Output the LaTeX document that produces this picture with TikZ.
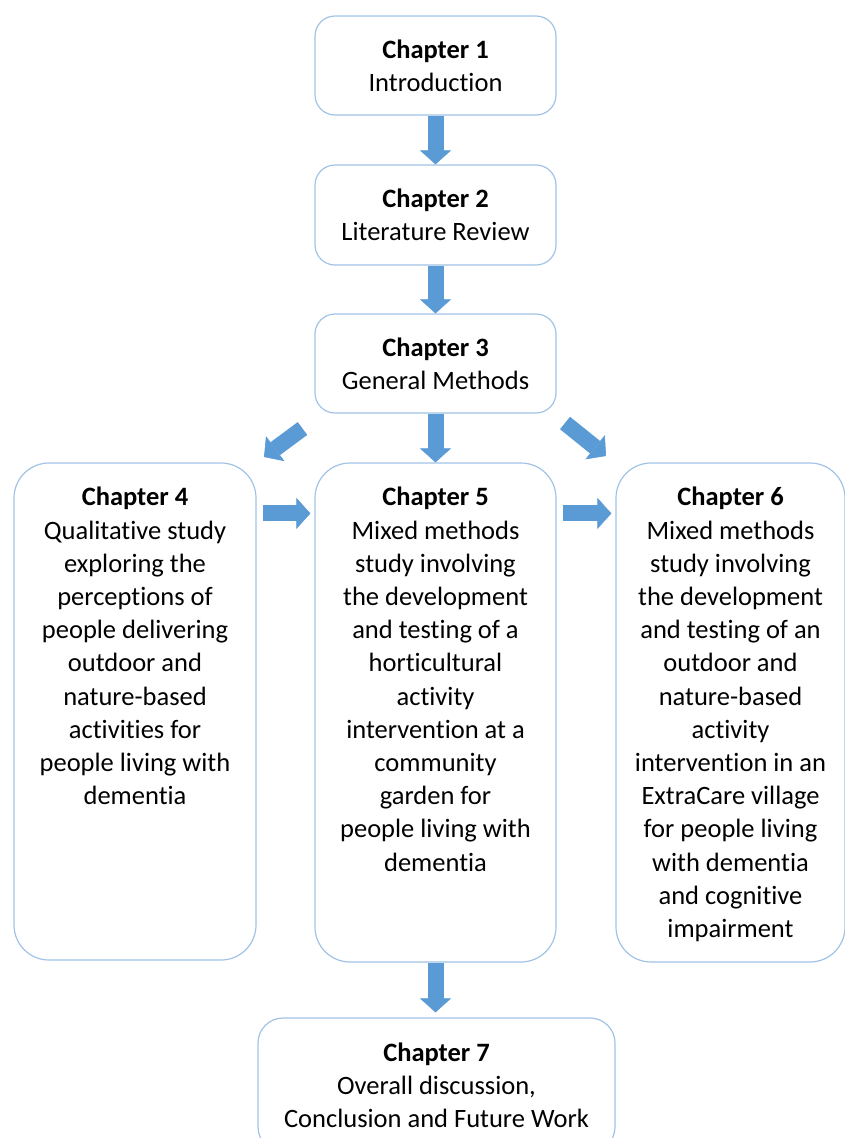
\documentclass[tikz,border=0pt]{standalone}
\usepackage{fontspec}
\setmainfont{Carlito}[Ligatures=NoCommon]
\usetikzlibrary{arrows.meta,positioning,calc}
\definecolor{edgeblue}{RGB}{160,195,230}
\definecolor{arrowblue}{RGB}{91,155,213}
\newcommand\chapfont{\fontsize{26.5}{33.2}\selectfont}

\begin{document}
\begin{tikzpicture}[x=1pt, y=-1pt,
    box/.style={rectangle, draw=edgeblue, line width=1.2pt, fill=white,
        rounded corners=20pt, align=center, font=\chapfont, inner sep=0pt},
    tallbox/.style={box, rounded corners=35pt, minimum height=499pt},
    txt/.style={anchor=north, align=center, inner sep=0pt, font=\chapfont},
    blockarr/.style={-{Triangle[width=31pt, length=14pt, line width=0.6pt]},
        line width=16pt, arrowblue}
]
    \useasboundingbox (0,0) rectangle (844,1138);

    % top column
    \node[box, minimum width=241pt, minimum height=99pt] (ch1) at (435.5,65.5)
        {\textbf{Chapter 1}\\Introduction};
    \node[box, minimum width=241pt, minimum height=100pt] (ch2) at (435.5,215)
        {\textbf{Chapter 2}\\Literature Review};
    \node[box, minimum width=241pt, minimum height=99pt] (ch3) at (435.5,363.5)
        {\textbf{Chapter 3}\\General Methods};

    % the three studies
    \node[tallbox, minimum width=242pt, minimum height=497pt] (ch4) at (135,711.5) {};
    \node[tallbox, minimum width=241pt] (ch5) at (435.5,712.5) {};
    \node[tallbox, minimum width=229pt] (ch6) at (730.5,712.5) {};

    \node[txt] (txt4) at (135,487) {\textbf{Chapter 4}\\Qualitative study\\exploring the\\
        perceptions of\\people delivering\\outdoor and\\nature-based\\activities for\\
        people living with\\dementia};
    \node[txt] (txt5) at (435.5,487) {\textbf{Chapter 5}\\Mixed methods\\study involving\\
        the development\\and testing of a\\horticultural\\activity\\intervention at a\\
        community\\garden for\\people living with\\dementia};
    \node[txt] (txt6) at (730.5,487) {\textbf{Chapter 6}\\Mixed methods\\study involving\\
        the development\\and testing of an\\outdoor and\\nature-based\\activity\\
        intervention in an\\ExtraCare village\\for people living\\with dementia\\
        and cognitive\\impairment};

    \node[box, rounded corners=25pt, minimum width=357pt, minimum height=134pt] (ch7)
        at (436.5,1085)
        {\textbf{Chapter 7}\\Overall discussion,\\Conclusion and Future Work};

    % free ends of the side arrows
    \coordinate (l4) at (302.5,428.5);
    \coordinate (t4) at (264,457);
    \coordinate (r6) at (565,423);
    \coordinate (t6) at (606,456);
    \coordinate (a45) at ($(ch4.north east)+(6,51)$);
    \coordinate (a56) at ($(ch5.north east)+(6,51)$);

    \draw[blockarr] (ch1) -- (ch2);
    \draw[blockarr] (ch2) -- (ch3);
    \draw[blockarr] (ch3) -- (ch5);
    \draw[blockarr] (l4) -- (t4);
    \draw[blockarr] (r6) -- (t6);
    \draw[blockarr, shorten >=4pt] (a45) -- (a45 -| ch5.west);
    \draw[blockarr, shorten >=4pt] (a56) -- (a56 -| ch6.west);
    \draw[blockarr, shorten >=5pt] (ch5.south) -- (ch5.south |- ch7.north);
\end{tikzpicture}
\end{document}
